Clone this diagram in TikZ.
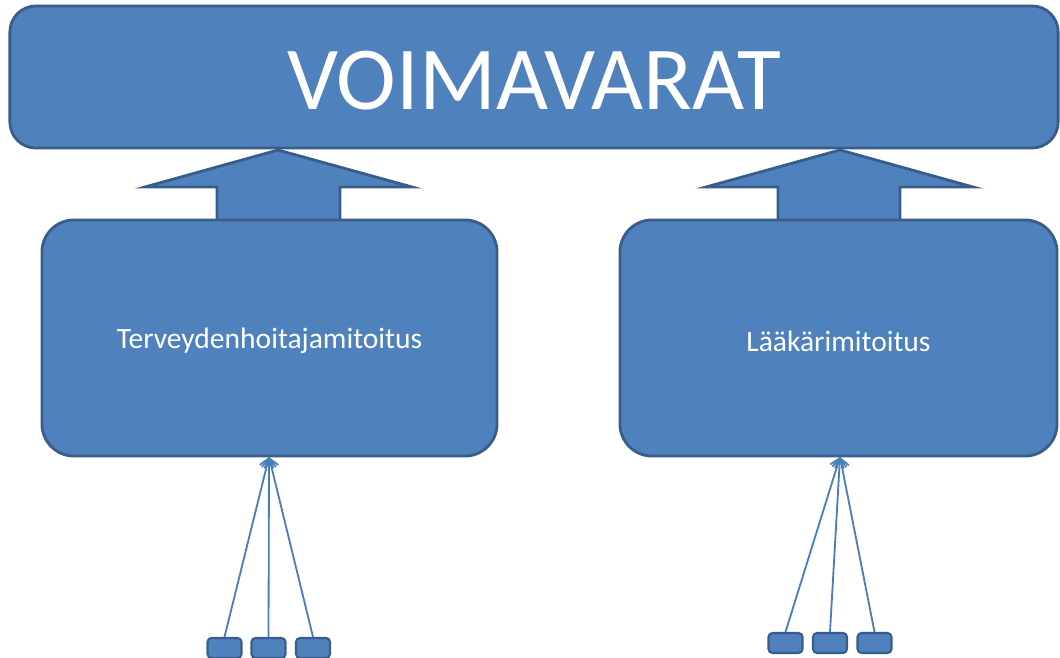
\documentclass[tikz,border=0pt]{standalone}
\usepackage{fontspec}
\setmainfont{Carlito}
\usetikzlibrary{arrows.meta, positioning}
\definecolor{bfill}{HTML}{4F81BD}
\definecolor{bline}{HTML}{385D8A}
\definecolor{aline}{HTML}{4A7EBB}

\begin{document}
\begin{tikzpicture}[x=0.025cm, y=-0.025cm,
    blk/.style={draw=bline, fill=bfill, line width=2pt, text=white},
    tiny/.style={blk, line width=1.5pt, minimum width=0.85cm, minimum height=0.5cm, rounded corners=0.1cm},
    conn/.style={draw=aline, line width=1.3pt, -{Straight Barb[length=6pt, width=10pt]}},
    bigarrow/.style={draw=bline, fill=bfill, line width=2pt, line join=miter}]
    \useasboundingbox (0,0) rectangle (1060,658);

    % Block arrows up to the top box
    \draw[bigarrow] (217,222) -- (217,187) -- (145,187) -- (278,150) -- (412,187) -- (340,187) -- (340,222) -- cycle;
    \draw[bigarrow] (778,222) -- (778,187) -- (706,187) -- (840,150) -- (973,187) -- (900,187) -- (900,222) -- cycle;

    % Main boxes
    \node[blk, minimum width=26.2cm, minimum height=3.55cm, rounded corners=0.65cm] (top) at (534,77) {};
    \node[text=white, font=\fontsize{64}{70}\selectfont] at ([yshift=-0.1cm]top.center) {VOIMAVARAT};
    \node[blk, minimum width=11.375cm, minimum height=5.9cm, rounded corners=0.8cm,
          font=\fontsize{21}{24}\selectfont] (terv) at (269.5,338) {};
    \node[text=white, font=\fontsize{21}{24}\selectfont] at ([yshift=-0.08cm]terv.center) {Terveydenhoitajamitoitus};
    \node[blk, minimum width=10.925cm, minimum height=5.9cm, rounded corners=0.8cm] (laak) at (838.5,338) {};
    \node[text=white, font=\fontsize{21}{24}\selectfont] at ([yshift=-0.08cm]laak.center) {Lääkärimitoitus};

    % Small boxes
    \node[tiny] (t1) at (224.5,648) {};
    \node[tiny] (t2) at (268.5,648) {};
    \node[tiny] (t3) at (313,648) {};
    \node[tiny] (l1) at (785.5,643) {};
    \node[tiny] (l2) at (830,643) {};
    \node[tiny] (l3) at (874.5,643) {};

    % Connectors
    \coordinate (ttip) at (269,457);
    \coordinate (ltip) at (840,457);
    \foreach \s in {t1,t2,t3} \draw[conn] (\s.north) -- (ttip);
    \foreach \s in {l1,l2,l3} \draw[conn] (\s.north) -- (ltip);
\end{tikzpicture}
\end{document}
